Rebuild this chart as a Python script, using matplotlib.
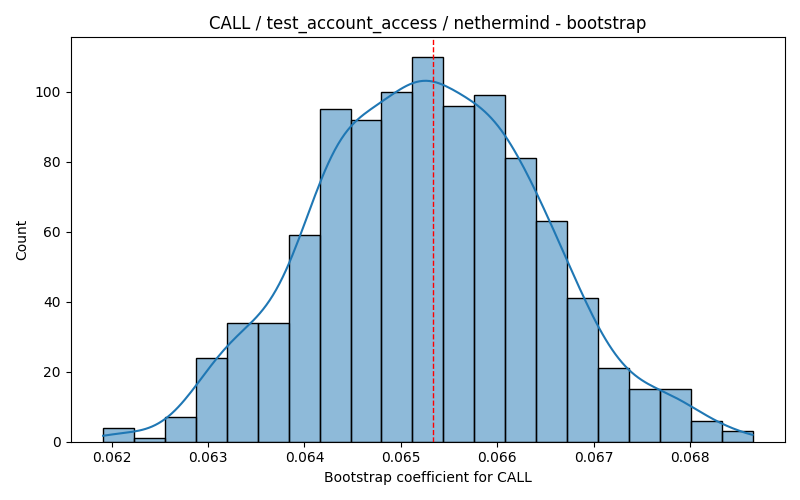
import numpy as np
import matplotlib
matplotlib.use("Agg")
import matplotlib.pyplot as plt
import seaborn as sns

# histogram: 21 bins, 1000 bootstrap samples
bin_start = 0.061913
bin_end = 0.068645
counts = [4, 1, 7, 24, 34, 34, 59, 95, 92, 100, 110,
          96, 99, 81, 63, 41, 21, 15, 15, 6, 3]
mean_coef = 0.06533

op = "CALL"
test_name = "test_account_access"
client = "nethermind"

if __name__ == "__main__":
    edges = np.linspace(bin_start, bin_end, len(counts) + 1)
    centers = (edges[:-1] + edges[1:]) / 2
    samples = np.repeat(centers, counts)

    fig, ax = plt.subplots(figsize=(8, 5), dpi=100)
    sns.histplot(samples, bins=edges, kde=True, ax=ax,
                 kde_kws={"cut": 1, "clip": (bin_start, bin_end)})
    ax.axvline(mean_coef, color="red", linestyle="--", linewidth=1)
    ax.set_title(f"{op} / {test_name} / {client} - bootstrap")
    ax.set_xlabel(f"Bootstrap coefficient for {op}")
    ax.set_ylabel("Count")
    plt.tight_layout()
    plt.savefig("out.png")
